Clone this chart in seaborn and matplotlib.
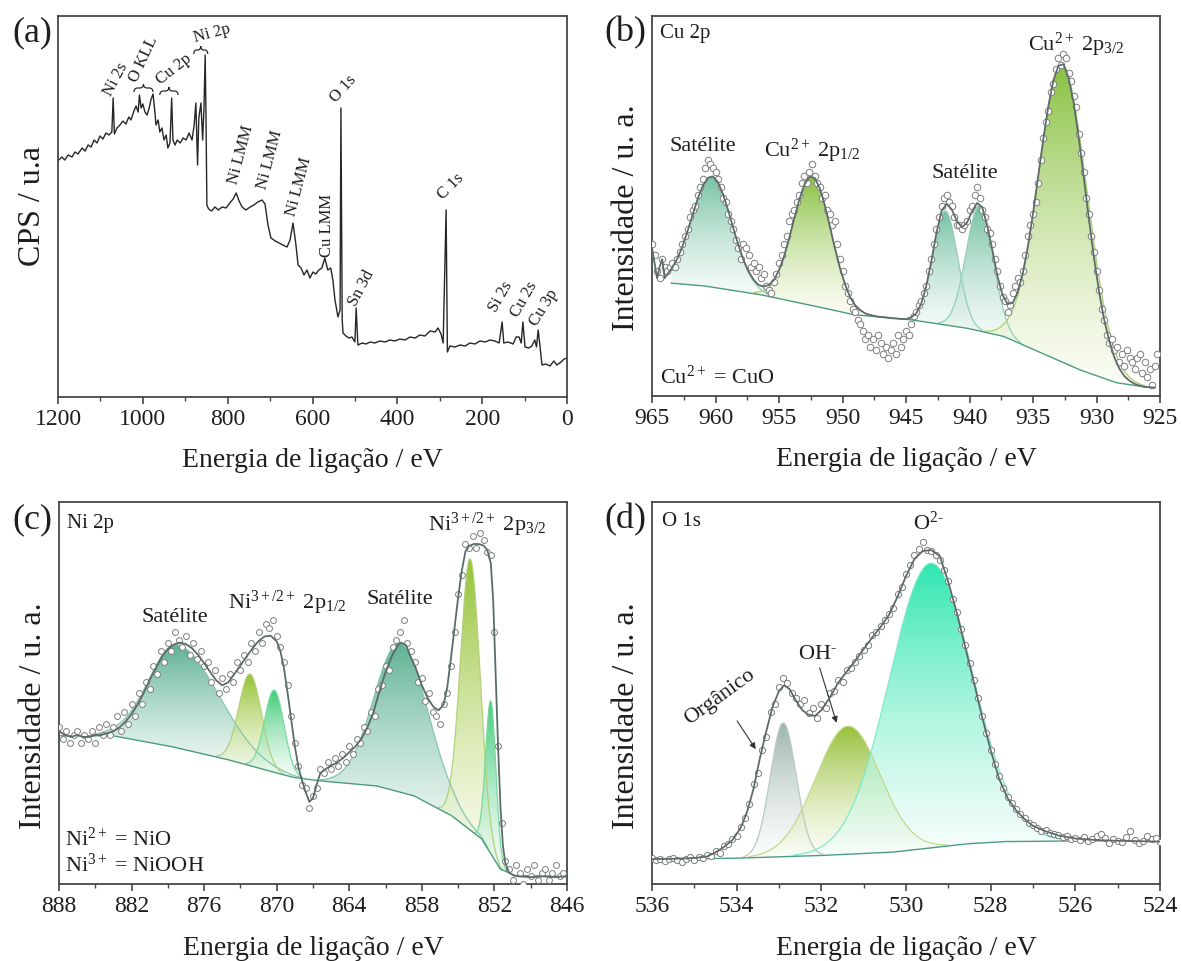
import numpy as np
import matplotlib
matplotlib.use("Agg")
import matplotlib.pyplot as plt
import seaborn as sns
from matplotlib.path import Path
from matplotlib.patches import PathPatch
from matplotlib.ticker import MultipleLocator
from matplotlib.colors import to_rgb

sns.set_theme(style="ticks")
plt.rcParams.update({
    "font.family": ["Liberation Serif", "DejaVu Serif"],
    "mathtext.fontset": "custom",
    "mathtext.rm": "Liberation Serif",
    "mathtext.it": "Liberation Serif:italic",
    "mathtext.bf": "Liberation Serif:bold",
    "axes.edgecolor": "#474747",
    "axes.linewidth": 1.3,
    "xtick.color": "#474747",
    "xtick.labelcolor": "#1e1e1e",
    "text.color": "#1e1e1e",
    "axes.labelcolor": "#1e1e1e",
})

# ---------------- (a) survey spectrum ----------------
survey_energy = [1198, 1191, 1184, 1176, 1167, 1160, 1153, 1143, 1136, 1129, 1122, 1115, 1108, 1101,
                 1094, 1087, 1080, 1073, 1070, 1067, 1061, 1054, 1047, 1040, 1033, 1028, 1021, 1016,
                 1011, 1008, 1004, 1000, 995, 990, 985, 981, 976, 972, 969, 964, 960, 955, 950, 945,
                 941, 936, 932, 929, 924, 919, 912, 905, 898, 891, 884, 879, 875, 871, 868, 863, 859,
                 856, 853, 851, 849, 845, 838, 830, 822, 813, 804, 795, 787, 780, 773, 766, 757, 747,
                 738, 729, 719, 712, 705, 698, 688, 679, 670, 660, 653, 646, 639, 634, 627, 620, 613,
                 606, 599, 592, 585, 578, 571, 564, 557, 552, 547, 540, 535, 533, 530, 528, 521, 514,
                 507, 500, 497, 493, 483, 474, 464, 453, 441, 429, 417, 406, 394, 382, 370, 358, 347,
                 335, 323, 311, 304, 297, 292, 285, 282, 276, 264, 252, 240, 229, 217, 205, 193, 182,
                 170, 160, 153, 149, 139, 127, 120, 113, 108, 104, 99, 90, 83, 76, 72, 68, 64, 59, 50,
                 40, 31, 24, 14, 7, 0]
survey_counts = [237, 240, 237, 242, 240, 245, 243, 249, 246, 252, 250, 257, 254, 261,
                 258, 264, 262, 265, 299, 263, 269, 272, 276, 273, 280, 277, 286, 291,
                 285, 302, 289, 293, 285, 282, 289, 297, 303, 287, 272, 277, 265, 269, 257, 262,
                 249, 254, 299, 257, 252, 257, 254, 259, 257, 264, 257, 272, 294, 232, 279, 294, 257,
                 287, 342, 277, 192, 188, 186, 190, 187, 190, 189, 194, 198, 204, 196, 190, 187, 190,
                 192, 195, 197, 193, 172, 159, 156, 154, 152, 150, 157, 174, 152, 132, 129, 122, 127,
                 119, 125, 123, 127, 129, 139, 127, 129, 117, 97, 80, 87, 289, 77, 64, 61, 59,
                 60, 55, 89, 52, 54, 53, 55, 54, 56, 55, 57, 56, 58, 57, 60, 59, 62,
                 61, 66, 65, 69, 63, 54, 187, 45, 51, 50, 52, 51, 54, 53, 56, 55, 57,
                 56, 54, 75, 54, 55, 53, 60, 60, 54, 75, 50, 49, 51, 57, 50, 67, 52, 32, 33,
                 31, 36, 32, 35, 38, 39]

# ---------------- (b) Cu 2p ----------------
cu_data_start, cu_data_step = 965.0, 0.2
cu_data = [.40, .37, .33, .31, .36, .34, .33, .34, .35, .34, .36, .38, .40, .42, .44, .47, .49, .50,
           .53, .55, .57, .60, .62, .61, .60, .59, .57, .55, .52, .51, .48, .46, .44, .41, .39, .36,
           .40, .39, .37, .34, .35, .33, .34, .31, .32, .29, .28, .27, .30, .32, .35, .37, .40, .42,
           .46, .48, .49, .51, .53, .56, .58, .56, .59, .61, .58, .56, .55, .52, .53, .49, .48, .45,
           .46, .40, .36, .33, .29, .27, .25, .23, .22, .20, .19, .17, .15, .16, .13, .15, .12, .16,
           .14, .11, .13, .10, .12, .14, .11, .16, .13, .15, .17, .16, .19, .21, .22, .24, .25, .27,
           .29, .33, .36, .40, .44, .47, .50, .52, .53, .51, .50, .47, .45, .45, .44, .45, .46, .49,
           .50, .53, .55, .52, .49, .47, .44, .43, .40, .36, .33, .29, .26, .25, .22, .24, .27, .29,
           .31, .30, .33, .37, .42, .45, .48, .51, .56, .62, .68, .72, .75, .80, .82, .86, .89, .87,
           .90, .89, .85, .83, .79, .76, .69, .64, .59, .52, .48, .42, .38, .33, .28, .23, .20, .16,
           .14, .15, .12, .13, .09, .11, .08, .12, .10, .09, .07, .10, .11, .06, .09, .05, .07, .03,
           .08, .11]
cu_env_e = [965.0, 964.8, 964.6, 964.4, 964.2, 964.0, 963.8, 963.4, 963.0, 962.6, 962.2, 961.8,
            961.4, 961.0, 960.6, 960.2, 959.8, 959.4, 959.0, 958.6, 958.2, 957.8, 957.4, 957.0,
            956.6, 956.2, 955.8, 955.4, 955.0, 954.6, 954.2, 953.8, 953.4, 953.0, 952.6, 952.2,
            951.8, 951.4, 951.0, 950.6, 950.2, 949.8, 949.4, 949.0, 948.6, 948.2, 947.8, 947.4,
            947.0, 946.6, 946.2, 945.8, 945.4, 945.0, 944.6, 944.2, 943.8, 943.4, 943.0, 942.6,
            942.2, 941.8, 941.4, 941.0, 940.6, 940.2, 939.8, 939.4, 939.0, 938.6, 938.2, 937.8,
            937.4, 937.0, 936.6, 936.2, 935.8, 935.4, 935.0, 934.6, 934.2, 933.8, 933.4, 933.0,
            932.6, 932.2, 931.8, 931.4, 931.0, 930.6, 930.2, 929.8, 929.4, 929.0, 928.6, 928.2,
            927.8, 927.4, 927.0, 926.6, 926.2, 925.8, 925.4]
cu_env_i = [.39, .35, .31, .34, .36, .31, .32, .338, .362, .394, .434, .477,
            .519, .553, .574, .578, .562, .530, .488, .442, .397, .358, .328, .306,
            .292, .288, .292, .305, .331, .368, .415, .467, .517, .556, .577, .574,
            .548, .503, .447, .389, .337, .294, .260, .239, .226, .217, .213, .210,
            .208, .207, .205, .204, .203, .202, .207, .217, .243, .290, .355, .430,
            .487, .506, .491, .461, .444, .456, .486, .508, .497, .448, .384, .315,
            .266, .242, .245, .273, .323, .394, .480, .576, .673, .761, .830, .869,
            .873, .838, .772, .680, .575, .466, .364, .275, .201, .145, .102, .072,
            .052, .040, .032, .027, .024, .023, .022]
cu_bg_e = [963.5, 960.95, 956.52, 952.09, 949.14, 944.71, 940.28, 937.32, 934.37, 931.41, 928.46, 925.8]
cu_bg_i = [.297, .290, .267, .236, .214, .201, .179, .157, .114, .070, .035, .022]
# centre, height, FWHM (high-BE side), FWHM (low-BE side), family
cu_peaks = [(960.3, .290, 3.7, 3.7, "sat"),
            (952.4, .340, 3.5, 3.5, "main"),
            (941.9, .300, 2.3, 2.3, "sat"),
            (939.2, .330, 2.5, 2.5, "sat"),
            (932.7, .785, 4.3, 4.6, "main")]

# ---------------- (c) Ni 2p ----------------
ni_data_start, ni_data_step = 888.0, 0.3
ni_data = [.41, .38, .40, .37, .39, .40, .37, .39, .38, .40, .37, .41, .39, .42, .39, .41, .44, .40,
           .45, .42, .47, .44, .50, .47, .53, .51, .57, .55, .61, .58, .63, .61, .66, .64, .62, .65,
           .60, .63, .59, .61, .57, .58, .53, .56, .50, .54, .51, .55, .53, .58, .56, .60, .58, .63,
           .61, .66, .63, .68, .67, .69, .65, .62, .58, .52, .44, .37, .31, .26, .25, .20, .23, .25,
           .30, .29, .32, .30, .33, .31, .34, .32, .36, .34, .38, .37, .41, .40, .45, .44, .51, .52,
           .57, .56, .62, .64, .66, .69, .63, .61, .58, .53, .54, .48, .50, .45, .44, .42, .47, .50,
           .57, .66, .76, .81, .89, .88, .91, .88, .92, .90, .87, .86, .66, .36, .16, .06, .04, .01,
           .05, .03, .00, .04, .02, .05, .01, .03, .04, .01, .03, .05, .02, .03]
ni_env_e = [888.0, 887.5, 887.0, 886.5, 886.0, 885.5, 885.0, 884.5, 884.0, 883.5, 883.0, 882.5,
            882.0, 881.5, 881.0, 880.5, 880.0, 879.5, 879.0, 878.5, 878.0, 877.5, 877.0, 876.5,
            876.0, 875.5, 875.0, 874.5, 874.0, 873.5, 873.0, 872.5, 872.0, 871.5, 871.0, 870.5,
            870.0, 869.7, 869.4, 869.1, 868.8, 868.5, 868.2, 867.9, 867.6, 867.3, 867.0, 866.7,
            866.4, 866.0, 865.5, 865.0, 864.5, 864.0, 863.5, 863.0, 862.5, 862.0, 861.5, 861.0,
            860.5, 860.0, 859.7, 859.3, 859.0, 858.5, 858.0, 857.5, 857.0, 856.6, 856.2, 855.9,
            855.6, 855.3, 855.0, 854.7, 854.4, 854.1, 853.7, 853.3, 852.9, 852.6, 852.3, 852.1,
            851.9, 851.7, 851.5, 851.3, 851.1, 850.8, 850.4, 850.0, 849.0, 848.0, 847.0, 846.0]
ni_env_i = [.40, .39, .385, .39, .385, .385, .39, .39, .395, .40, .41, .425,
            .445, .47, .50, .535, .565, .595, .615, .627, .632, .628, .617, .600,
            .578, .555, .533, .52, .528, .55, .572, .595, .617, .636, .648, .65,
            .635, .61, .565, .50, .43, .36, .305, .27, .24, .215, .225, .26,
            .29, .30, .31, .318, .33, .345, .36, .38, .41, .45, .505, .555,
            .595, .625, .632, .625, .60, .565, .52, .485, .462, .455, .47, .515,
            .59, .67, .75, .82, .87, .885, .89, .89, .886, .875, .84, .74,
            .55, .36, .20, .10, .055, .03, .022, .02, .018, .02, .018, .02]
ni_bg_e = [888.0, 883.55, 878.88, 874.22, 871.11, 868.62, 866.44, 861.77, 858.66, 855.55, 853.06,
           851.51, 850.26, 846.0]
ni_bg_i = [.388, .388, .361, .327, .300, .279, .270, .257, .231, .179, .118, .039, .022, .020]
ni_peaks = [(878.2, .270, 5.6, 8.0, "sat"),
            (872.2, .240, 2.2, 2.2, "main"),
            (870.2, .215, 1.9, 1.9, "alt"),
            (859.8, .390, 5.0, 5.5, "sat"),
            (854.0, .710, 1.9, 1.9, "main"),
            (852.3, .400, 1.0, 1.0, "alt")]

# ---------------- (d) O 1s ----------------
o_data_start, o_data_step = 536.0, 0.1
o_data = [.068, .062, .066, .060, .065, .069, .063, .058, .066, .070, .064, .071, .067, .075, .072,
          .086, .081, .099, .105, .118, .126, .150, .172, .210, .262, .290, .352, .385, .450, .472,
          .515, .540, .525, .500, .488, .470, .482, .448, .462, .435, .470, .462, .500, .505, .535,
          .528, .560, .566, .580, .598, .612, .625, .652, .660, .675, .690, .708, .722, .760, .778,
          .812, .835, .860, .878, .896, .875, .873, .862, .848, .822, .792, .745, .712, .668, .625,
          .578, .535, .488, .440, .395, .352, .315, .282, .250, .228, .212, .196, .183, .172, .160,
          .155, .147, .140, .142, .133, .130, .127, .122, .125, .118, .121, .116, .124, .112, .118,
          .126, .132, .120, .108, .117, .113, .110, .122, .138, .115, .108, .112, .125, .118, .121,
          .110]
o_env_e = [536.0, 535.5, 535.0, 534.7, 534.5, 534.3, 534.1, 533.9, 533.75, 533.6, 533.45, 533.3,
           533.15, 533.0, 532.88, 532.75, 532.6, 532.45, 532.3, 532.15, 532.0, 531.8, 531.6, 531.4,
           531.2, 531.0, 530.8, 530.6, 530.4, 530.2, 530.0, 529.8, 529.6, 529.4, 529.2, 529.0,
           528.8, 528.6, 528.4, 528.2, 528.0, 527.8, 527.6, 527.4, 527.2, 527.0, 526.7, 526.4,
           526.0, 525.5, 525.0, 524.5, 524.0]
o_env_i = [.065, .066, .068, .072, .083, .097, .115, .148, .19, .25, .33, .40,
           .465, .505, .52, .51, .48, .455, .443, .44, .455, .488, .527, .556,
           .584, .615, .645, .673, .705, .752, .806, .851, .872, .874, .858, .79,
           .71, .62, .53, .436, .35, .275, .225, .193, .17, .152, .138, .127,
           .119, .115, .113, .112, .111]
o_bg_e = [536.0, 534.17, 532.13, 530.35, 528.58, 527.7, 525.92, 524.0]
o_bg_i = [.065, .067, .074, .083, .105, .111, .113, .113]
o_peaks = [(532.9, .350, 0.72, 0.72, "org"),
           (531.37, .335, 1.8, 1.8, "oh"),
           (529.42, .745, 2.3, 2.3, "ox")]

# fill colours per peak family: (top, bottom, outline)
cu_colors = {"sat": ("#76c2a4", "#f2faf6", "#94cfb8"),
             "main": ("#88c13f", "#fbfdf0", "#a9cf72")}
ni_colors = {"sat": ("#5db293", "#eef8f3", "#86c6ad"),
             "main": ("#95c235", "#fafce9", "#b2d27a"),
             "alt": ("#3fcc78", "#f0fbf4", "#7bdaa0")}
o_colors = {"org": ("#9db5ae", "#fbfdfc", "#b9c9c3"),
            "oh": ("#97c03a", "#fdfef5", "#c3d98b"),
            "ox": ("#2fe6b0", "#f3fefb", "#7fe9cb")}


def peak_shape(e, centre, height, fwhm_hi, fwhm_lo):
    s = np.where(e >= centre, fwhm_hi, fwhm_lo) / 2.3548
    return height * np.exp(-0.5 * ((e - centre) / s) ** 2)


def gradient_fill(ax, x, base, top, c_top, c_bot, z):
    poly = ax.fill_between(x, base, top, facecolor="none", edgecolor="none", zorder=z)
    n = 256
    t = np.linspace(0.0, 1.0, n)
    rgba = np.zeros((n, 1, 4))
    ct, cb = np.array(to_rgb(c_top)), np.array(to_rgb(c_bot))
    rgba[:, 0, :3] = cb[None, :] * (1 - t[:, None]) + ct[None, :] * t[:, None]
    rgba[:, 0, 3] = 0.55 + 0.45 * t
    im = ax.imshow(rgba, extent=[x.min(), x.max(), base.min(), top.max()], origin="lower",
                   aspect="auto", interpolation="bilinear", zorder=z)
    im.set_clip_path(poly.get_paths()[0], transform=ax.transData)


def draw_fit(ax, bg_e, bg_i, peaks, colors, env_e, env_i, data_start, data_step, data,
             marker_size, env_color, bg_color):
    e = np.linspace(max(bg_e), min(bg_e), 1500)
    bg = np.interp(e[::-1], np.array(bg_e)[::-1], np.array(bg_i)[::-1])[::-1]
    for k, (c, h, fh, fl, fam) in enumerate(peaks):
        comp = peak_shape(e, c, h, fh, fl)
        m = comp > 0.003
        top_c, bot_c, line_c = colors[fam]
        gradient_fill(ax, e[m], bg[m], bg[m] + comp[m], top_c, bot_c, 1 + 0.01 * k)
        sns.lineplot(x=e[m], y=bg[m] + comp[m], ax=ax, color=line_c, lw=0.9, zorder=2,
                     sort=False, estimator=None)
    sns.lineplot(x=e, y=bg, ax=ax, color=bg_color, lw=1.0, zorder=2.5, sort=False, estimator=None)
    de = data_start - data_step * np.arange(len(data))
    sns.scatterplot(x=de, y=data, ax=ax, marker="o", s=marker_size, color="white",
                    edgecolor="#7d7d7d", linewidth=0.7, zorder=3)
    sns.lineplot(x=env_e, y=env_i, ax=ax, color=env_color, lw=1.3, zorder=4, sort=False,
                 estimator=None)


def style_axis(ax, xlim, major, minor, ylabel, ylabel_y=0.5):
    ax.set_xlim(*xlim)
    ax.xaxis.set_major_locator(MultipleLocator(major))
    ax.xaxis.set_minor_locator(MultipleLocator(minor))
    ax.set_yticks([])
    ax.tick_params(axis="x", which="major", direction="out", length=5, width=1.2,
                   labelsize=17, pad=4)
    ax.tick_params(axis="x", which="minor", direction="out", length=3, width=1.0)
    ax.set_xlabel("Energia de ligação / eV", fontsize=20)
    ax.set_ylabel(ylabel, fontsize=23)
    ax.xaxis.set_label_coords(0.5, -0.135)
    ax.yaxis.set_label_coords(-0.022, ylabel_y)
    for sp in ax.spines.values():
        sp.set_visible(True)
        sp.set_color("#474747")
        sp.set_linewidth(1.3)


def brace(ax, x0, x1, y, d):
    w = x1 - x0
    xm = 0.5 * (x0 + x1)
    verts = [(x0, y - d), (x0, y), (x0 + 0.2 * w, y), (xm - 0.2 * w, y), (xm, y), (xm, y + d),
             (xm, y), (xm + 0.2 * w, y), (x1 - 0.2 * w, y), (x1, y), (x1, y - d)]
    codes = [Path.MOVETO, Path.CURVE3, Path.CURVE3, Path.LINETO, Path.CURVE3, Path.CURVE3,
             Path.CURVE3, Path.CURVE3, Path.LINETO, Path.CURVE3, Path.CURVE3]
    ax.add_patch(PathPatch(Path(verts, codes), facecolor="none", edgecolor="#2a2a2a", lw=0.9))


fig = plt.figure(figsize=(11.82, 9.61), dpi=100)
ax_a = fig.add_axes([0.04907, 0.58689, 0.43063, 0.39646])
ax_b = fig.add_axes([0.55161, 0.58794, 0.42978, 0.39542])
ax_c = fig.add_axes([0.04992, 0.08013, 0.42978, 0.39750])
ax_d = fig.add_axes([0.55161, 0.08013, 0.42978, 0.39750])

# ---- (a)
sns.lineplot(x=survey_energy, y=survey_counts, ax=ax_a, color="#262626", lw=1.0, sort=False,
             estimator=None)
style_axis(ax_a, (1200, 0), 200, 100, "CPS / u.a")
ax_a.set_ylim(0, 381)
survey_notes = [("Ni 2s", 1075, 300, 62), ("O KLL", 1014, 314, 65), ("Cu 2p", 958, 312, 38),
                ("Ni 2p", 877, 355, 15), ("Ni LMM", 778, 212, 75), ("Ni LMM", 710, 207, 75),
                ("Ni LMM", 641, 180, 75), ("Cu LMM", 556, 140, 90), ("O 1s", 545, 294, 48),
                ("Sn 3d", 497, 90, 62), ("C 1s", 292, 197, 45), ("Si 2s", 167, 84, 60),
                ("Cu 2s", 115, 79, 60), ("Cu 3p", 71, 70, 58)]
for txt, xe, yi, rot in survey_notes:
    ax_a.text(xe, yi, txt, fontsize=12, rotation=rot, rotation_mode="anchor", ha="left",
              va="baseline")
for x0, x1, yb in [(1021, 976, 309), (960, 917, 306), (880, 847, 347)]:
    brace(ax_a, x0, x1, yb, 4)

# ---- (b)
draw_fit(ax_b, cu_bg_e, cu_bg_i, cu_peaks, cu_colors, cu_env_e, cu_env_i, cu_data_start,
         cu_data_step, cu_data, 22, "#5f6b6b", "#4c9c7e")
style_axis(ax_b, (965, 925), 5, 2.5, "Intensidade / u. a.", 0.47)
ax_b.set_ylim(0, 1)
ax_b.text(0.016, 0.955, "Cu 2p", transform=ax_b.transAxes, fontsize=15, va="center")
ax_b.text(0.016, 0.05, "Cu$^{2+}$ = CuO", transform=ax_b.transAxes, fontsize=16, va="center")
ax_b.text(961.0, 0.656, "Satélite", fontsize=16, ha="center", va="center")
ax_b.text(952.4, 0.645, "Cu$^{2+}$ 2p$_{1/2}$", fontsize=16, ha="center", va="center")
ax_b.text(940.4, 0.586, "Satélite", fontsize=16, ha="center", va="center")
ax_b.text(931.6, 0.925, "Cu$^{2+}$ 2p$_{3/2}$", fontsize=16, ha="center", va="center")

# ---- (c)
draw_fit(ax_c, ni_bg_e, ni_bg_i, ni_peaks, ni_colors, ni_env_e, ni_env_i, ni_data_start,
         ni_data_step, ni_data, 18, "#5c6a6b", "#4c9c7e")
style_axis(ax_c, (888, 846), 6, 3, "Intensidade / u. a.", 0.44)
ax_c.set_ylim(0, 1)
ax_c.text(0.016, 0.945, "Ni 2p", transform=ax_c.transAxes, fontsize=15, va="center")
ax_c.text(0.012, 0.118, "Ni$^{2+}$ = NiO", transform=ax_c.transAxes, fontsize=16, va="center")
ax_c.text(0.012, 0.048, "Ni$^{3+}$ = NiOOH", transform=ax_c.transAxes, fontsize=16, va="center")
ax_c.text(878.4, 0.697, "Satélite", fontsize=16, ha="center", va="center")
ax_c.text(869.1, 0.736, "Ni$^{3+/2+}$ 2p$_{1/2}$", fontsize=16, ha="center", va="center")
ax_c.text(859.8, 0.745, "Satélite", fontsize=16, ha="center", va="center")
ax_c.text(852.6, 0.94, "Ni$^{3+/2+}$ 2p$_{3/2}$", fontsize=16, ha="center", va="center")

# ---- (d)
draw_fit(ax_d, o_bg_e, o_bg_i, o_peaks, o_colors, o_env_e, o_env_i, o_data_start,
         o_data_step, o_data, 20, "#5f6b6b", "#4e9a8a")
style_axis(ax_d, (536, 524), 2, 1, "Intensidade / u. a.", 0.44)
ax_d.set_ylim(0, 1)
ax_d.text(0.02, 0.95, "O 1s", transform=ax_d.transAxes, fontsize=15, va="center")
ax_d.text(529.47, 0.945, "O$^{2\\text{-}}$", fontsize=16, ha="center", va="center")
ax_d.text(532.08, 0.60, "OH$^{\\text{-}}$", fontsize=16, ha="center", va="center")
ax_d.text(534.39, 0.49, "Orgânico", fontsize=16, ha="center", va="center", rotation=36)
arrow_style = dict(arrowstyle="-|>", color="#333333", lw=0.8, mutation_scale=9, shrinkA=0,
                   shrinkB=0)
ax_d.annotate("", xy=(533.55, 0.353), xytext=(533.99, 0.427), arrowprops=arrow_style)
ax_d.annotate("", xy=(531.64, 0.422), xytext=(532.04, 0.566), arrowprops=arrow_style)

for lab, (fx, fy) in zip(["(a)", "(b)", "(c)", "(d)"],
                         [(0.027, 0.966), (0.529, 0.966), (0.027, 0.459), (0.529, 0.459)]):
    fig.text(fx, fy, lab, fontsize=26, ha="center", va="center")

fig.savefig("out.png", dpi=100)
